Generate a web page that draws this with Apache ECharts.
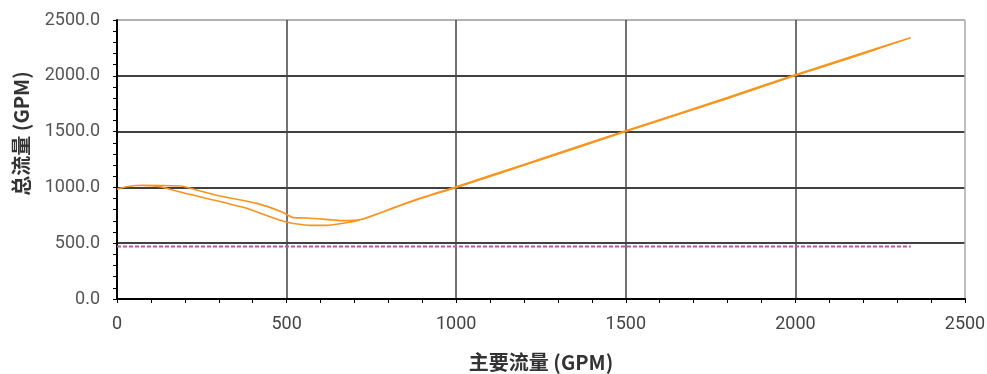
<!DOCTYPE html>
<html>
<head>
<meta charset="utf-8">
<title>总流量 vs 主要流量</title>
<script src="https://cdn.jsdelivr.net/npm/echarts@6/dist/echarts.min.js"></script>
<style>
  html, body { margin: 0; padding: 0; background: #fff; }
  #chart { width: 987px; height: 374px; }
</style>
</head>
<body>
<div id="chart"></div>
<script>
// Primary flow (GPM) sweep: rising, then falling back (hysteresis loop at low flow)
const primaryFlow = [
  0, 28, 78, 186, 205, 304, 412, 485, 520, 559, 638, 667, 720, 785, 880, 1000,
  1200, 1500, 1800, 2000, 2200, 2340,
  2200, 2000, 1800, 1500, 1200, 1000, 880, 785, 707, 618, 569, 495, 372, 195, 127, 78
];
// Total flow (GPM) measured at each point of the sweep
const totalFlow = [
  983, 1006, 1019, 1012, 1001, 923, 857, 782, 729, 726, 708, 702, 712, 782, 885, 1000,
  1198, 1500, 1797, 2002, 2198, 2341,
  2206, 2009, 1806, 1507, 1206, 1006, 889, 782, 702, 660, 660, 693, 822, 952, 1006, 1017
];
// Reference level line
const refFlowX = [0, 2340];
const refFlowY = [470, 470];

const xTicks = [0, 500, 1000, 1500, 2000, 2500];
const yTicks = [0, 500, 1000, 1500, 2000, 2500];

const pairs = (xs, ys) => xs.map((x, i) => [x, ys[i]]);

const labelFont = 'Roboto, "DejaVu Sans", sans-serif';
const titleFont = '"Noto Sans CJK SC", "Noto Sans", sans-serif';

const chart = echarts.init(document.getElementById('chart'), null, { renderer: 'canvas' });
chart.setOption({
  animation: false,
  backgroundColor: '#ffffff',
  grid: { left: 117, right: 22, top: 20, bottom: 75, containLabel: false, outerBoundsMode: 'none' },
  xAxis: {
    type: 'value',
    min: xTicks[0],
    max: xTicks[xTicks.length - 1],
    interval: 500,
    name: '主要流量 (GPM)',
    nameLocation: 'middle',
    nameGap: 53,
    nameTextStyle: { fontFamily: titleFont, fontSize: 20, fontWeight: 'bold', color: '#333' },
    axisLine: { show: true, onZero: false, lineStyle: { color: '#000', width: 2 } },
    axisTick: { show: true, length: 4, lineStyle: { color: '#000', width: 1 } },
    minorTick: { show: true, splitNumber: 5, length: 4, lineStyle: { color: '#000', width: 1 } },
    axisLabel: { margin: 16, fontFamily: labelFont, fontSize: 18, color: '#444', formatter: v => String(v) },
    splitLine: {
      show: true,
      lineStyle: { color: ['#444', '#444', '#444', '#444', '#444', '#aaa'], width: 1.5 }
    }
  },
  yAxis: {
    type: 'value',
    min: yTicks[0],
    max: yTicks[yTicks.length - 1],
    interval: 500,
    name: '总流量 (GPM)',
    nameLocation: 'middle',
    nameGap: 86,
    nameTextStyle: { fontFamily: titleFont, fontSize: 20, fontWeight: 'bold', color: '#333', padding: [0, 0, 0, 52] },
    axisLine: { show: true, onZero: false, lineStyle: { color: '#000', width: 2 } },
    axisTick: { show: true, length: 4, lineStyle: { color: '#000', width: 1 } },
    minorTick: { show: true, splitNumber: 5, length: 4, lineStyle: { color: '#000', width: 1 } },
    axisLabel: {
      margin: 17, fontFamily: labelFont, fontSize: 18, color: '#555',
      formatter: v => v.toFixed(1)
    },
    splitLine: {
      show: true,
      lineStyle: { color: ['#000', '#000', '#000', '#000', '#000', '#999'], width: 1.5 }
    }
  },
  series: [
    {
      name: '参考',
      type: 'line',
      data: pairs(refFlowX, refFlowY),
      symbol: 'none',
      silent: true,
      lineStyle: { color: '#b85aa8', width: 2, type: [4, 2] }
    },
    {
      name: '总流量',
      type: 'line',
      data: pairs(primaryFlow, totalFlow),
      symbol: 'none',
      smooth: 0.2,
      lineStyle: { color: '#f7941e', width: 1.6 }
    }
  ]
});
</script>
</body>
</html>
